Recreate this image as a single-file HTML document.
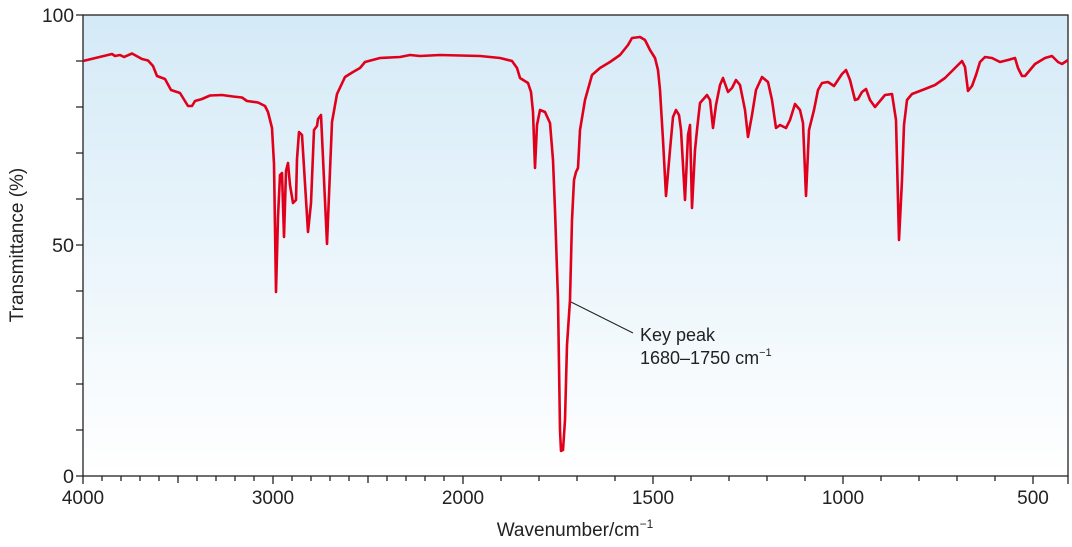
<!DOCTYPE html>
<html><head><meta charset="utf-8"><style>
html,body{margin:0;padding:0;background:#fff;}
svg{display:block;font-family:"Liberation Sans",sans-serif;}
</style></head><body>
<svg width="1072" height="547" viewBox="0 0 1072 547" xmlns="http://www.w3.org/2000/svg">
<defs><linearGradient id="g" x1="0" y1="0" x2="0" y2="1">
<stop offset="0" stop-color="#d4eaf7"/><stop offset="1" stop-color="#ffffff"/></linearGradient></defs>
<rect x="83" y="15" width="985" height="461" fill="url(#g)"/>
<g stroke="#222" stroke-width="1.3" fill="none">
<rect x="83" y="15" width="985" height="461"/>
<path d="M76,15H83M76,61H83M76,107H83M76,153H83M76,199H83M76,245H83M76,291H83M76,338H83M76,384H83M76,430H83M76,476H83"/>
<path d="M83,476v8M102,476v5M121,476v5M140,476v5M159,476v5M178,476v7M197,476v5M216,476v5M235,476v5M254,476v5M273,476v8M292,476v5M311,476v5M330,476v5M349,476v5M368,476v7M387,476v5M406,476v5M425,476v5M444,476v5M463,476v8M501,476v5M539,476v5M577,476v5M615,476v5M653,476v8M691,476v5M729,476v5M767,476v5M805,476v5M843,476v8M881,476v5M919,476v5M957,476v5M995,476v5M1033,476v8M1068,476v8"/>
</g>
<g font-size="19" fill="#222">
<text x="74" y="22" text-anchor="end" textLength="32" lengthAdjust="spacingAndGlyphs">100</text>
<text x="74" y="252" text-anchor="end" textLength="22" lengthAdjust="spacingAndGlyphs">50</text>
<text x="74" y="483" text-anchor="end" textLength="11" lengthAdjust="spacingAndGlyphs">0</text>
<text x="83" y="504" text-anchor="middle">4000</text>
<text x="273" y="504" text-anchor="middle">3000</text>
<text x="463" y="504" text-anchor="middle">2000</text>
<text x="653" y="504" text-anchor="middle">1500</text>
<text x="843" y="504" text-anchor="middle">1000</text>
<text x="1033" y="504" text-anchor="middle">500</text>
<text x="575" y="536" text-anchor="middle" font-size="19">Wavenumber/cm<tspan dy="-8" font-size="12">−1</tspan></text>
<text transform="translate(23,245) rotate(-90)" text-anchor="middle" font-size="19">Transmittance (%)</text>
<text x="640" y="341" font-size="18">Key peak</text>
<text x="640" y="364" font-size="18">1680–1750 cm<tspan dy="-8" font-size="11">−1</tspan></text>
</g>
<line x1="571" y1="302" x2="633" y2="333" stroke="#222" stroke-width="1"/>
<polyline fill="none" stroke="#e0001b" stroke-width="2.6" stroke-linejoin="round" points="83,61 112,54 115,56 120,55 124,57 132,53.5 142,59 148,60.5 153,66 157,76 165,79 171,90 180,93 188,106 192,106 195,101 202,99 210,95.5 222,95 233,96.5 242,97.5 247,101 258,102.5 265,106 268,112 272,128 274,164 276,292 278,217 280,175 282,173 284,237 286,171 288,163 290,185 293,203 296,200 297,159 299,132 302,135 308,232 311,203 314,130 317,126 318,119 321,115 327,244 332,122 337,94 345,77 353,72 360,68 365,62 380,58 400,57 410,55 420,56 440,55 460,55.5 480,56 500,58 512,61 517,68 520,78 528,83 531,92 533,112 535,168 537,125 540,110 545,112 550,123 553,160 555,210 558,300 560,430 561,451 563,450 565,420 567,345 570,300 572,220 574,180 576,172 578,168 580,130 585,100 592,75 600,68 610,62 620,55 628,45 632,38 640,37 645,40 650,50 655,58 658,70 660,90 663,140 666,196 670,150 673,117 676,110 679,115 681,130 685,200 688,135 690,125 692,208 695,150 697,130 700,103 707,95 710,100 713,128 716,105 720,85 723,78 728,92 732,88 736,80 740,85 745,110 748,137 752,115 756,90 762,77 768,82 772,100 776,128 780,125 786,128 790,120 795,104 800,110 803,123 806,196 809,130 814,110 818,90 822,83 828,82 834,86 842,74 846,70 850,80 855,100 858,99 862,92 866,89 870,100 875,107 880,101 885,95 892,94 896,120 899,240 902,180 904,125 907,100 912,94 925,89 935,85 945,78 955,68 962,61 965,67 968,91 972,86 976,75 980,62 985,57 992,58 1000,62 1008,60 1015,58 1018,68 1022,76 1025,76 1030,70 1035,64 1045,58 1052,56 1058,62 1062,64 1068,60"/>
</svg>
</body></html>
